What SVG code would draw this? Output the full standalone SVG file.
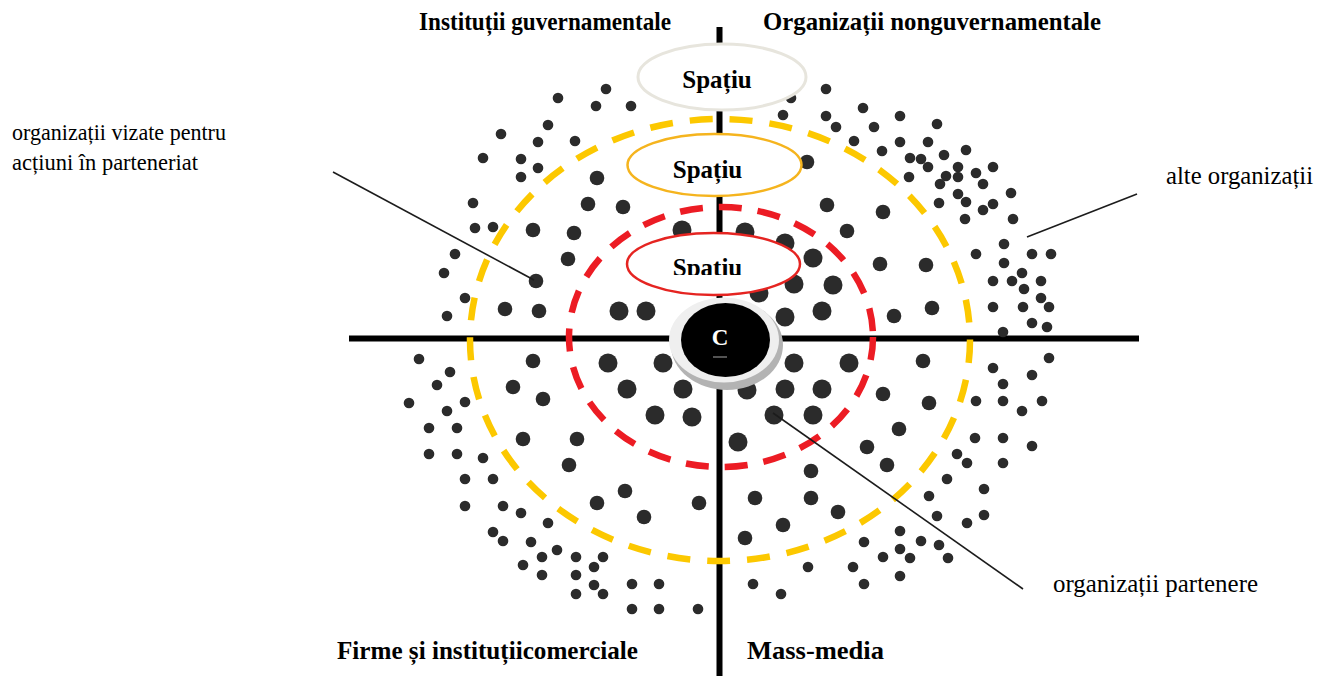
<svg xmlns="http://www.w3.org/2000/svg" width="1317" height="676" viewBox="0 0 1317 676">
<style>
.lbl{font-family:"Liberation Serif","Times New Roman",serif;fill:#000}
.hdr{font-family:"Liberation Serif","Times New Roman",serif;font-weight:bold;font-size:25px;fill:#000}
.sp{font-family:"Liberation Serif","Times New Roman",serif;font-weight:bold;font-size:25px;fill:#000;text-anchor:middle}
.dots circle{fill:#2b2b2b}
.axis{stroke:#000;stroke-width:6;fill:none}
.lead{stroke:#1c1c1c;stroke-width:1.6;fill:none}
.zone{fill:none;stroke-width:6.5}
</style>
<defs>
<clipPath id="clip3"><rect x="600" y="220" width="230" height="55"/></clipPath>
</defs>

<g id="axes">
<line class="axis" x1="349" y1="338.5" x2="1139" y2="338.5"/>
<line class="axis" x1="719.5" y1="27" x2="719.5" y2="676"/>
</g>

<g id="organizations" class="dots">
<!-- upper left small -->
<circle cx="606" cy="89" r="5.3"/><circle cx="558" cy="98" r="5.3"/><circle cx="596" cy="106" r="5.3"/><circle cx="631" cy="106" r="5.3"/>
<circle cx="548" cy="125" r="5.3"/><circle cx="501" cy="134" r="5.3"/><circle cx="538" cy="142" r="5.3"/><circle cx="575" cy="141" r="5.3"/>
<circle cx="483" cy="158" r="5.3"/><circle cx="521" cy="159" r="5.3"/><circle cx="538" cy="168" r="5.3"/><circle cx="521" cy="177" r="5.3"/>
<circle cx="473" cy="203" r="5.3"/><circle cx="475" cy="228" r="5.3"/><circle cx="493" cy="227" r="5.3"/><circle cx="455" cy="254" r="5.3"/>
<circle cx="444" cy="273" r="5.3"/><circle cx="465" cy="298" r="5.3"/><circle cx="447" cy="316" r="5.3"/>
<!-- upper left medium -->
<circle cx="597" cy="178" r="7.3"/><circle cx="588" cy="204" r="7.3"/><circle cx="623" cy="207" r="7.3"/><circle cx="533" cy="230" r="7.3"/>
<circle cx="574" cy="233" r="7.3"/><circle cx="568" cy="259" r="7.3"/><circle cx="536" cy="281" r="7.3"/><circle cx="505" cy="309" r="7.3"/>
<circle cx="539" cy="311" r="7.3"/>
<!-- upper left large -->
<circle cx="682" cy="230" r="9.5"/><circle cx="619" cy="311" r="9.5"/><circle cx="646" cy="311" r="9.5"/>
<!-- upper right small -->
<circle cx="826" cy="89" r="5.3"/><circle cx="791" cy="98" r="5.3"/><circle cx="863" cy="108" r="5.3"/><circle cx="783" cy="115" r="5.3"/>
<circle cx="826" cy="116" r="5.3"/><circle cx="836" cy="127" r="5.3"/><circle cx="900" cy="116" r="5.3"/><circle cx="874" cy="127" r="5.3"/>
<circle cx="937" cy="124" r="5.3"/><circle cx="854" cy="141" r="5.3"/><circle cx="900" cy="142" r="5.3"/><circle cx="928" cy="142" r="5.3"/>
<circle cx="882" cy="151" r="5.3"/><circle cx="966" cy="150" r="5.3"/><circle cx="910" cy="158" r="5.3"/><circle cx="921" cy="159" r="5.3"/>
<circle cx="944" cy="155" r="5.3"/><circle cx="928" cy="167" r="5.3"/><circle cx="958" cy="167" r="5.3"/><circle cx="993" cy="167" r="5.3"/>
<circle cx="909" cy="177" r="5.3"/><circle cx="946" cy="176" r="5.3"/><circle cx="958" cy="177" r="5.3"/><circle cx="976" cy="173" r="5.3"/>
<circle cx="940" cy="184" r="5.3"/><circle cx="983" cy="184" r="5.3"/><circle cx="1011" cy="193" r="5.3"/><circle cx="958" cy="194" r="5.3"/>
<circle cx="966" cy="202" r="5.3"/><circle cx="939" cy="203" r="5.3"/><circle cx="993" cy="204" r="5.3"/><circle cx="983" cy="210" r="5.3"/>
<circle cx="965" cy="219" r="5.3"/><circle cx="1013" cy="219" r="5.3"/><circle cx="976" cy="254" r="5.3"/><circle cx="1004" cy="244" r="5.3"/>
<circle cx="1004" cy="263" r="5.3"/><circle cx="1032" cy="254" r="5.3"/><circle cx="1051" cy="254" r="5.3"/><circle cx="993" cy="281" r="5.3"/>
<circle cx="1012" cy="281" r="5.3"/><circle cx="1022" cy="273" r="5.3"/><circle cx="1041" cy="281" r="5.3"/><circle cx="1024" cy="289" r="5.3"/>
<circle cx="1041" cy="298" r="5.3"/><circle cx="1049" cy="307" r="5.3"/><circle cx="993" cy="307" r="5.3"/><circle cx="1023" cy="307" r="5.3"/>
<circle cx="1032" cy="323" r="5.3"/><circle cx="1047" cy="327" r="5.3"/><circle cx="1003" cy="332" r="5.3"/>
<!-- upper right medium -->
<circle cx="807" cy="162" r="7.3"/><circle cx="827" cy="205" r="7.3"/><circle cx="883" cy="212" r="7.3"/><circle cx="847" cy="231" r="7.3"/>
<circle cx="880" cy="264" r="7.3"/><circle cx="926" cy="265" r="7.3"/><circle cx="894" cy="316" r="7.3"/><circle cx="932" cy="308" r="7.3"/>
<!-- upper right large -->
<circle cx="745" cy="232" r="9.5"/><circle cx="785" cy="243" r="9.5"/><circle cx="813" cy="258" r="9.5"/><circle cx="794" cy="284" r="9.5"/>
<circle cx="833" cy="285" r="9.5"/><circle cx="759" cy="293" r="9.5"/><circle cx="822" cy="311" r="9.5"/><circle cx="785" cy="317" r="9.5"/>
<!-- lower left small -->
<circle cx="419" cy="359" r="5.3"/><circle cx="450" cy="372" r="5.3"/><circle cx="437" cy="385" r="5.3"/><circle cx="409" cy="403" r="5.3"/>
<circle cx="465" cy="402" r="5.3"/><circle cx="447" cy="411" r="5.3"/><circle cx="429" cy="428" r="5.3"/><circle cx="457" cy="428" r="5.3"/>
<circle cx="429" cy="454" r="5.3"/><circle cx="457" cy="454" r="5.3"/><circle cx="483" cy="458" r="5.3"/><circle cx="465" cy="479" r="5.3"/>
<circle cx="493" cy="479" r="5.3"/><circle cx="465" cy="506" r="5.3"/><circle cx="503" cy="506" r="5.3"/><circle cx="521" cy="513" r="5.3"/>
<circle cx="548" cy="523" r="5.3"/><circle cx="493" cy="532" r="5.3"/><circle cx="503" cy="541" r="5.3"/><circle cx="531" cy="542" r="5.3"/>
<circle cx="557" cy="550" r="5.3"/><circle cx="542" cy="557" r="5.3"/><circle cx="523" cy="565" r="5.3"/><circle cx="542" cy="575" r="5.3"/>
<circle cx="576" cy="557" r="5.3"/><circle cx="603" cy="557" r="5.3"/><circle cx="594" cy="567" r="5.3"/><circle cx="576" cy="575" r="5.3"/>
<circle cx="594" cy="585" r="5.3"/><circle cx="576" cy="594" r="5.3"/><circle cx="603" cy="594" r="5.3"/><circle cx="632" cy="584" r="5.3"/>
<circle cx="659" cy="584" r="5.3"/><circle cx="632" cy="609" r="5.3"/><circle cx="659" cy="609" r="5.3"/><circle cx="698" cy="609" r="5.3"/>
<!-- lower left medium -->
<circle cx="533" cy="361" r="7.3"/><circle cx="513" cy="387" r="7.3"/><circle cx="543" cy="399" r="7.3"/><circle cx="523" cy="439" r="7.3"/>
<circle cx="577" cy="439" r="7.3"/><circle cx="569" cy="465" r="7.3"/><circle cx="625" cy="491" r="7.3"/><circle cx="597" cy="503" r="7.3"/>
<circle cx="644" cy="517" r="7.3"/><circle cx="699" cy="503" r="7.3"/>
<!-- lower left large -->
<circle cx="608" cy="363" r="9.5"/><circle cx="663" cy="363" r="9.5"/><circle cx="627" cy="389" r="9.5"/><circle cx="683" cy="389" r="9.5"/>
<circle cx="655" cy="415" r="9.5"/><circle cx="692" cy="417" r="9.5"/>
<!-- lower right large -->
<circle cx="794" cy="363" r="9.5"/><circle cx="849" cy="363" r="9.5"/><circle cx="747" cy="390" r="9.5"/><circle cx="785" cy="389" r="9.5"/>
<circle cx="822" cy="389" r="9.5"/><circle cx="774" cy="415" r="9.5"/><circle cx="813" cy="415" r="9.5"/><circle cx="738" cy="442" r="9.5"/>
<!-- lower right medium -->
<circle cx="811" cy="471" r="7.3"/><circle cx="755" cy="498" r="7.3"/><circle cx="811" cy="498" r="7.3"/><circle cx="838" cy="512" r="7.3"/>
<circle cx="783" cy="525" r="7.3"/><circle cx="745" cy="538" r="7.3"/><circle cx="883" cy="394" r="7.3"/><circle cx="929" cy="403" r="7.3"/>
<circle cx="899" cy="429" r="7.3"/><circle cx="867" cy="447" r="7.3"/><circle cx="887" cy="465" r="7.3"/><circle cx="923" cy="361" r="7.3"/>
<!-- lower right small -->
<circle cx="753" cy="584" r="5.3"/><circle cx="781" cy="594" r="5.3"/><circle cx="808" cy="567" r="5.3"/><circle cx="853" cy="567" r="5.3"/>
<circle cx="864" cy="542" r="5.3"/><circle cx="864" cy="584" r="5.3"/><circle cx="883" cy="557" r="5.3"/><circle cx="900" cy="531" r="5.3"/>
<circle cx="900" cy="549" r="5.3"/><circle cx="910" cy="558" r="5.3"/><circle cx="900" cy="576" r="5.3"/><circle cx="921" cy="541" r="5.3"/>
<circle cx="939" cy="545" r="5.3"/><circle cx="948" cy="558" r="5.3"/><circle cx="929" cy="496" r="5.3"/><circle cx="937" cy="516" r="5.3"/>
<circle cx="967" cy="523" r="5.3"/><circle cx="984" cy="515" r="5.3"/><circle cx="984" cy="489" r="5.3"/><circle cx="947" cy="479" r="5.3"/>
<circle cx="967" cy="463" r="5.3"/><circle cx="957" cy="454" r="5.3"/><circle cx="975" cy="438" r="5.3"/><circle cx="1003" cy="438" r="5.3"/>
<circle cx="1003" cy="463" r="5.3"/><circle cx="1032" cy="446" r="5.3"/><circle cx="976" cy="401" r="5.3"/><circle cx="1003" cy="401" r="5.3"/>
<circle cx="1022" cy="411" r="5.3"/><circle cx="1042" cy="401" r="5.3"/><circle cx="1003" cy="384" r="5.3"/><circle cx="1032" cy="375" r="5.3"/>
<circle cx="993" cy="368" r="5.3"/><circle cx="1049" cy="358" r="5.3"/>
</g>

<g id="zones">
<ellipse id="zone-outer" class="zone" cx="720" cy="340" rx="250" ry="221" stroke="#fcc800" stroke-dasharray="23 17"/>
<ellipse id="zone-inner" class="zone" cx="721" cy="337" rx="152" ry="130" stroke="#ec1c24" stroke-dasharray="23 16"/>
</g>

<g id="connectors">
<line class="lead" x1="333" y1="172" x2="534" y2="280"/>
<line class="lead" x1="1027" y1="237" x2="1137" y2="194"/>
<line class="lead" x1="773" y1="413" x2="1023" y2="589"/>
</g>

<g id="space-1">
<ellipse cx="722" cy="77" rx="84" ry="33" fill="#fff" stroke="#e7e5dd" stroke-width="3"/>
<text class="sp" x="717" y="88">Spațiu</text>
</g>
<g id="space-2">
<ellipse cx="714.5" cy="165" rx="87" ry="31" fill="#fff" stroke="#f5b41e" stroke-width="2.5"/>
<text class="sp" x="707.5" y="178">Spațiu</text>
</g>
<g id="space-3">
<ellipse cx="713.5" cy="264" rx="86.5" ry="31" fill="#fff" stroke="#e52421" stroke-width="2.5"/>
<text class="sp" x="707.5" y="276" clip-path="url(#clip3)">Spațiu</text>
</g>

<g id="center-C">
<ellipse cx="727" cy="345" rx="56" ry="45" fill="#b3b3b3"/>
<ellipse cx="724" cy="340" rx="55" ry="42.5" fill="#efefef"/>
<ellipse cx="725.5" cy="340" rx="44.5" ry="37" fill="#000"/>
<text x="720" y="345" font-family="Liberation Serif, Times New Roman, serif" font-weight="bold" font-size="23" fill="#fff" text-anchor="middle">C</text>
<line x1="713" y1="357" x2="727" y2="357" stroke="#8a8a8a" stroke-width="1.2"/>
</g>

<g id="label-gov"><text class="hdr" x="419" y="30" textLength="252" lengthAdjust="spacingAndGlyphs">Instituții guvernamentale</text></g>
<g id="label-ngo"><text class="hdr" x="763" y="30" textLength="338" lengthAdjust="spacingAndGlyphs">Organizații nonguvernamentale</text></g>
<g id="label-firms"><text class="hdr" x="337" y="659" textLength="301" lengthAdjust="spacingAndGlyphs">Firme și instituțiicomerciale</text></g>
<g id="label-media"><text class="hdr" x="747" y="659" textLength="137" lengthAdjust="spacingAndGlyphs">Mass-media</text></g>

<g id="label-targeted">
<text class="lbl" x="12" y="140" font-size="22.5" textLength="214" lengthAdjust="spacingAndGlyphs">organizații vizate pentru</text>
<text class="lbl" x="12" y="170" font-size="22.5" textLength="186" lengthAdjust="spacingAndGlyphs">acțiuni în parteneriat</text>
</g>
<g id="label-other"><text class="lbl" x="1166" y="184" font-size="24.5" textLength="147" lengthAdjust="spacingAndGlyphs">alte organizații</text></g>
<g id="label-partners"><text class="lbl" x="1053" y="592" font-size="24.5" textLength="205" lengthAdjust="spacingAndGlyphs">organizații partenere</text></g>
</svg>
